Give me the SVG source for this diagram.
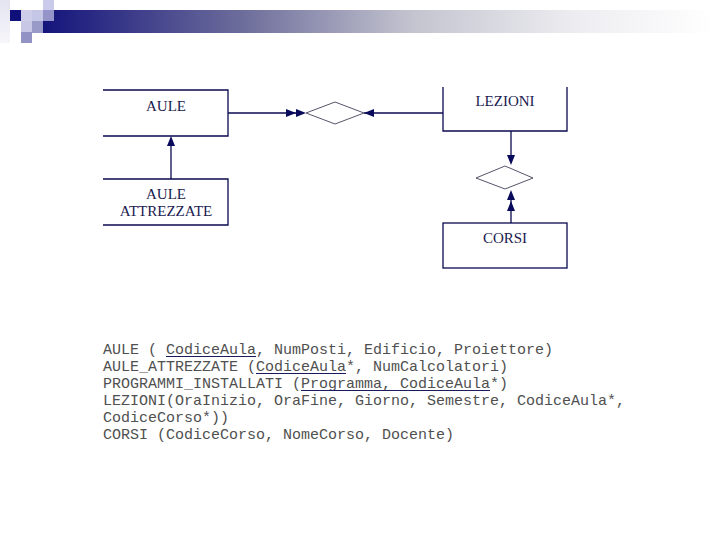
<svg xmlns="http://www.w3.org/2000/svg" width="720" height="540" viewBox="0 0 720 540">
<defs>
<linearGradient id="bar" x1="0" y1="0" x2="1" y2="0">
<stop offset="0" stop-color="#14147c"/>
<stop offset="0.3" stop-color="#6e6e9c"/>
<stop offset="0.55" stop-color="#c4c4d0"/>
<stop offset="0.8" stop-color="#eeeef2"/>
<stop offset="1" stop-color="#ffffff"/>
</linearGradient>
<linearGradient id="fade" x1="0" y1="0" x2="0" y2="1">
<stop offset="0" stop-color="#e4e4f2"/>
<stop offset="1" stop-color="#f6f6fa"/>
</linearGradient>
<path id="ahR" d="M0,0 L-10,-4 L-10,4 Z"/>
</defs>
<style>
.edge{fill:none;stroke:#0a0a50;stroke-width:1.3}
.dia{fill:none;stroke:#55556a;stroke-width:1}
.ah{fill:#0a0a5c}
.lbl{font-family:"Liberation Serif","Times New Roman",serif;font-size:15px;fill:#1a1a50;text-anchor:middle}
.rel{font-family:"Liberation Mono","Courier New",monospace;font-size:15px;fill:#505050}
.ul{stroke:#1a1a60;stroke-width:1.2}
</style>
<rect width="720" height="540" fill="#ffffff"/>
<g id="header">
<rect x="0" y="0" width="10" height="43" fill="url(#fade)"/>
<rect x="43" y="10" width="672" height="23" fill="url(#bar)"/>
<rect x="10" y="10" width="11" height="11" fill="#10107a"/>
<rect x="21" y="10" width="11" height="11" fill="#ceceea"/>
<rect x="32" y="10" width="11" height="11" fill="#c6c6e6"/>
<rect x="43" y="0" width="11" height="10" fill="#cacaea"/>
<rect x="43" y="10" width="11" height="11" fill="#9494c8"/>
<rect x="21" y="21" width="11" height="11" fill="#c8c8e6"/>
<rect x="32" y="21" width="11" height="12" fill="#9a9ac8"/>
<rect x="21" y="32" width="11" height="11" fill="#9292c4"/>
</g>
<g id="connectors">
<line class="edge" x1="228" y1="113" x2="296" y2="113"/>
<line class="edge" x1="364" y1="113" x2="443" y2="113"/>
<line class="edge" x1="171" y1="179" x2="171" y2="144"/>
<line class="edge" x1="511" y1="131" x2="511" y2="157"/>
<line class="edge" x1="511" y1="223" x2="511" y2="198"/>
<use href="#ahR" class="ah" transform="translate(296,113)"/>
<use href="#ahR" class="ah" transform="translate(306,113)"/>
<use href="#ahR" class="ah" transform="translate(364,113) rotate(180)"/>
<use href="#ahR" class="ah" transform="translate(171,136) rotate(-90)"/>
<use href="#ahR" class="ah" transform="translate(511,165) rotate(90)"/>
<use href="#ahR" class="ah" transform="translate(511,190) rotate(-90)"/>
<use href="#ahR" class="ah" transform="translate(511,201) rotate(-90)"/>
</g>
<g id="rel-aule-lezioni">
<polygon class="dia" points="306,113 335,102 364,113 335,124"/>
</g>
<g id="rel-lezioni-corsi">
<polygon class="dia" points="476,178 505,166 533,178 505,189"/>
</g>
<g id="aule">
<path class="edge" d="M103,90 H228 V136 H103"/>
<text class="lbl" x="166" y="111">AULE</text>
</g>
<g id="aule-attrezzate">
<path class="edge" d="M103,179 H228 V225 H103"/>
<text class="lbl" x="166" y="199">AULE</text>
<text class="lbl" x="166" y="216">ATTREZZATE</text>
</g>
<g id="lezioni">
<path class="edge" d="M443,87 V131 H567 V87"/>
<text class="lbl" x="505" y="106">LEZIONI</text>
</g>
<g id="corsi">
<rect class="edge" x="443" y="223" width="124" height="45"/>
<text class="lbl" x="505" y="243">CORSI</text>
</g>
<g id="schema">
<text class="rel" x="103" y="354" xml:space="preserve">AULE ( CodiceAula, NumPosti, Edificio, Proiettore)</text>
<text class="rel" x="103" y="371" xml:space="preserve">AULE_ATTREZZATE (CodiceAula*, NumCalcolatori)</text>
<text class="rel" x="103" y="388" xml:space="preserve">PROGRAMMI_INSTALLATI (Programma, CodiceAula*)</text>
<text class="rel" x="103" y="405" xml:space="preserve">LEZIONI(OraInizio, OraFine, Giorno, Semestre, CodiceAula*,</text>
<text class="rel" x="103" y="422" xml:space="preserve">CodiceCorso*))</text>
<text class="rel" x="103" y="439" xml:space="preserve">CORSI (CodiceCorso, NomeCorso, Docente)</text>
<line class="ul" x1="166" y1="356.5" x2="256" y2="356.5"/>
<line class="ul" x1="256" y1="373.5" x2="346" y2="373.5"/>
<line class="ul" x1="301" y1="390.5" x2="490" y2="390.5"/>
</g>
</svg>
